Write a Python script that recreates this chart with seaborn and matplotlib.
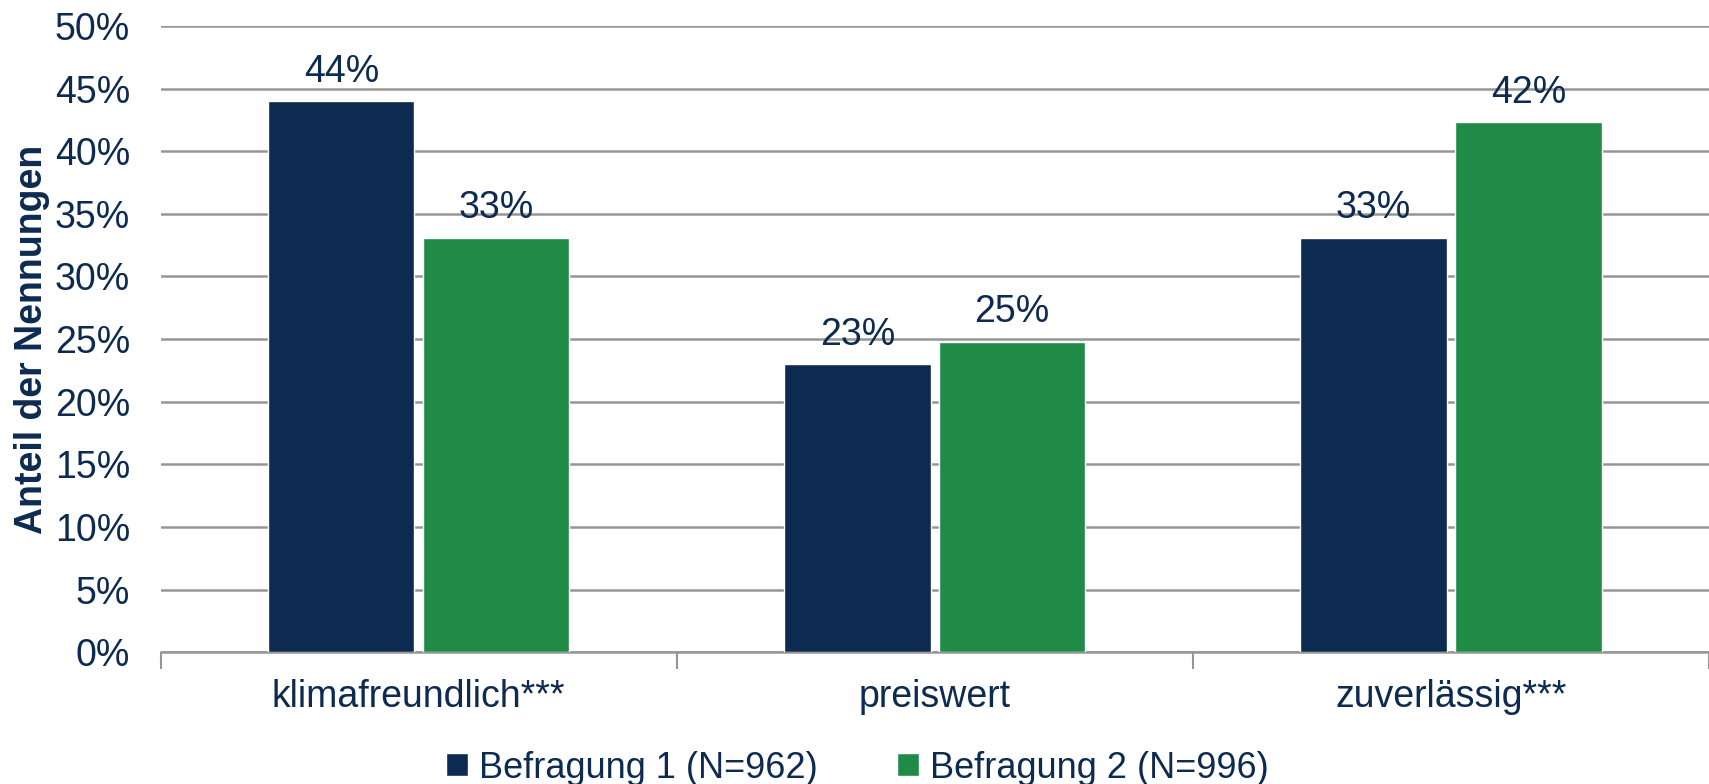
import matplotlib
matplotlib.use("Agg")
import matplotlib.pyplot as plt
import seaborn as sns
import pandas as pd
from matplotlib.ticker import PercentFormatter

categories = ["klimafreundlich***", "preiswert", "zuverlässig***"]
series_names = ["Befragung 1 (N=962)", "Befragung 2 (N=996)"]
befragung1 = [44.0, 23.0, 33.1]
befragung2 = [33.1, 24.8, 42.3]
y_ticks = list(range(0, 55, 5))

navy = "#0D2A50"
green = "#208B47"
grid_gray = "#969696"

sns.set_theme(style="white")
plt.rcParams["font.family"] = ["Liberation Sans", "DejaVu Sans"]

df = pd.DataFrame({
    "Kategorie": categories * 2,
    "Serie": [series_names[0]] * 3 + [series_names[1]] * 3,
    "Wert": befragung1 + befragung2,
})

fig = plt.figure(figsize=(17.09, 7.84), dpi=100)
ax = fig.add_axes([0.094, 0.168, 0.906, 0.799])

sns.barplot(data=df, x="Kategorie", y="Wert", hue="Serie", order=categories,
            hue_order=series_names, palette=[navy, green], width=0.6, gap=0.055,
            saturation=1, ax=ax, zorder=3, legend=True)

ax.set_ylim(0, 50)
ax.set_xlim(-0.5, 2.5)
ax.set_yticks(y_ticks)
ax.yaxis.set_major_formatter(PercentFormatter(decimals=0))
ax.grid(axis="y", color=grid_gray, linewidth=1.8, zorder=0)
ax.set_axisbelow(True)
for s in ["left", "right", "top"]:
    ax.spines[s].set_visible(False)
ax.spines["bottom"].set_color(grid_gray)
ax.spines["bottom"].set_linewidth(1.8)

ax.set_xticks([0, 1, 2])
ax.set_xticklabels(categories, fontsize=27, color=navy)
ax.set_xticks([-0.5, 0.5, 1.5, 2.5], minor=True)
ax.tick_params(axis="x", which="major", length=0, pad=19)
ax.tick_params(axis="x", which="minor", length=12, width=1.5, color=grid_gray, direction="out", bottom=True)
ax.tick_params(axis="y", length=0, labelsize=27, labelcolor=navy, pad=22)
ax.set_xlabel("")
ax.set_ylabel("Anteil der Nennungen", fontsize=27, fontweight="bold", color=navy, labelpad=3.5)

for cont in ax.containers:
    ax.bar_label(cont, labels=[f"{v:.0f}%" for v in cont.datavalues], padding=8,
                 fontsize=27, color=navy)

leg = ax.legend(loc="upper center", bbox_to_anchor=(0.45, -0.105), ncol=2, frameon=False,
                fontsize=26, handlelength=0.6, handleheight=0.6, handletextpad=0.3,
                columnspacing=2.2, labelcolor=navy)

fig.savefig("out.png", dpi=100)
